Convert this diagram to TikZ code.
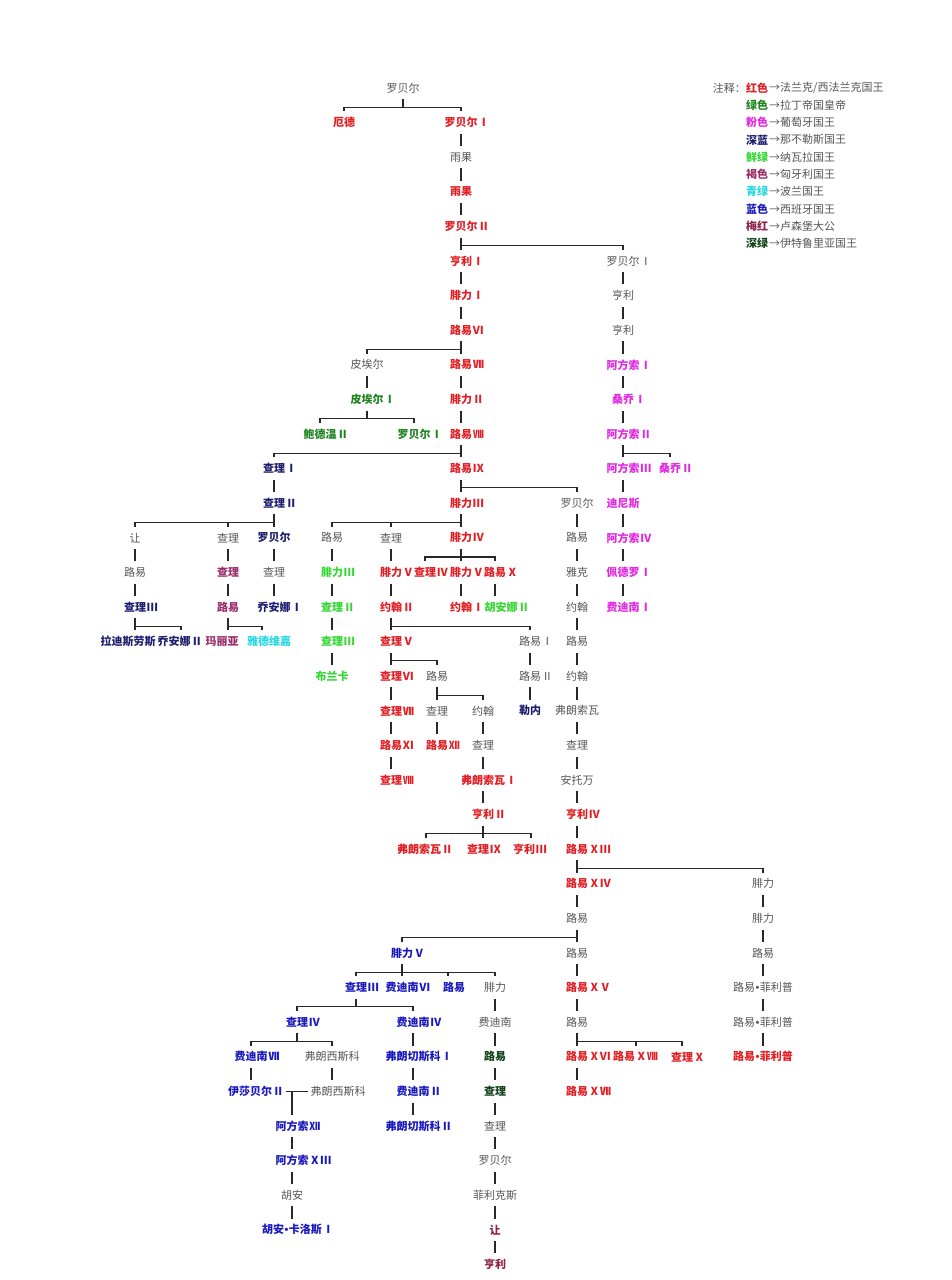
\documentclass[tikz,border=0pt]{standalone}
\usepackage{fontspec}
\newfontfamily\cjk{Noto Sans CJK SC}
\newfontfamily\latn{Liberation Sans}
\definecolor{cred}{RGB}{225,30,35}
\definecolor{cgreen}{RGB}{30,130,30}
\definecolor{cpink}{RGB}{225,40,225}
\definecolor{cnavy}{RGB}{30,30,110}
\definecolor{clime}{RGB}{50,215,50}
\definecolor{cbrown}{RGB}{155,45,105}
\definecolor{ccyan}{RGB}{40,215,225}
\definecolor{cblue}{RGB}{25,25,190}
\definecolor{cplum}{RGB}{140,35,75}
\definecolor{cdkgreen}{RGB}{15,65,25}
\definecolor{cgray}{RGB}{85,85,85}
\definecolor{cline}{RGB}{40,40,40}
\tikzset{
  nm/.style={inner sep=0pt, minimum height=22pt, font=\cjk\fontsize{11}{13}\selectfont, text=cgray},
  kgray/.style={nm},
  kbold/.style={nm, font=\cjk\bfseries\fontsize{11}{13}\selectfont},
  kred/.style={kbold, text=cred},
  kgreen/.style={kbold, text=cgreen},
  kpink/.style={kbold, text=cpink},
  knavy/.style={kbold, text=cnavy},
  klime/.style={kbold, text=clime},
  kbrown/.style={kbold, text=cbrown},
  kcyan/.style={kbold, text=ccyan},
  kblue/.style={kbold, text=cblue},
  kplum/.style={kbold, text=cplum},
  kdkgreen/.style={kbold, text=cdkgreen},
  ln/.style={line width=1.3pt, draw=cline},
}
\newcommand\mknode[5]{\node[#4] (#1) at (#2,{88+34.6*#3}) {#5};}
\newcommand\vcon[2]{\draw[ln] (#1.south) -- (#1.south |- #2.north);}
\newcommand\bcon[2]{\draw[ln] (#1.south) -- ++(0,8) -| (#2.north);}
\newcommand\bconx[3]{\draw[ln] (#1.south) -- ++(0,8) -| ([xshift=#3pt]#2.north);}
\newcommand\rnum[1]{\rlap{\kern1pt#1}}
\newcommand\dotsep{{\latn\kern0.5pt•\kern0.5pt}}
\begin{document}
\begin{tikzpicture}[x=1pt,y=-1pt]
\useasboundingbox (0,0) rectangle (951,1280);
% legend
\node[kgray, anchor=east] (lg0) at (746,88) {注释：};
\foreach \i/\st/\lab/\txt in {1/kred/红色/法兰克\slash 西法兰克国王, 2/kgreen/绿色/拉丁帝国皇帝, 3/kpink/粉色/葡萄牙国王, 4/knavy/深蓝/那不勒斯国王, 5/klime/鲜绿/纳瓦拉国王, 6/kbrown/褐色/匈牙利国王, 7/kcyan/青绿/波兰国王, 8/kblue/蓝色/西班牙国王, 9/kplum/梅红/卢森堡大公, 10/kdkgreen/深绿/伊特鲁里亚国王}{
  \node[\st, anchor=west] (lg\i) at (746,{88+17.3*(\i-1)}) {\lab};
  \node[kgray, anchor=west] (lt\i) at (769,{88+17.3*(\i-1)}) {→\txt};
}
% nodes
\mknode{a0}{403}{0}{kgray}{罗贝尔}
\mknode{a1}{344}{1}{kred}{厄德}
\mknode{b1}{461}{1}{kred}{罗贝尔\rnum{Ⅰ}}
\mknode{b2}{461}{2}{kgray}{雨果}
\mknode{b3}{461}{3}{kred}{雨果}
\mknode{b4}{461}{4}{kred}{罗贝尔\rnum{Ⅱ}}
\mknode{b5}{461}{5}{kred}{亨利\rnum{Ⅰ}}
\mknode{c5}{623}{5}{kgray}{罗贝尔\rnum{Ⅰ}}
\mknode{b6}{461}{6}{kred}{腓力\rnum{Ⅰ}}
\mknode{c6}{623}{6}{kgray}{亨利}
\mknode{b7}{461}{7}{kred}{路易\rnum{Ⅵ}}
\mknode{c7}{623}{7}{kgray}{亨利}
\mknode{d8}{367}{8}{kgray}{皮埃尔}
\mknode{b8}{461}{8}{kred}{路易\rnum{Ⅶ}}
\mknode{c8}{623}{8}{kpink}{阿方索\rnum{Ⅰ}}
\mknode{d9}{367}{9}{kgreen}{皮埃尔\rnum{Ⅰ}}
\mknode{b9}{461}{9}{kred}{腓力\rnum{Ⅱ}}
\mknode{c9}{623}{9}{kpink}{桑乔\rnum{Ⅰ}}
\mknode{e10}{320}{10}{kgreen}{鲍德温\rnum{Ⅱ}}
\mknode{f10}{414}{10}{kgreen}{罗贝尔\rnum{Ⅰ}}
\mknode{b10}{461}{10}{kred}{路易\rnum{Ⅷ}}
\mknode{c10}{623}{10}{kpink}{阿方索\rnum{Ⅱ}}
\mknode{h11}{274}{11}{knavy}{查理\rnum{Ⅰ}}
\mknode{b11}{461}{11}{kred}{路易\rnum{Ⅸ}}
\mknode{c11}{623}{11}{kpink}{阿方索\rnum{Ⅲ}}
\mknode{i11}{670}{11}{kpink}{桑乔\rnum{Ⅱ}}
\mknode{h12}{274}{12}{knavy}{查理\rnum{Ⅱ}}
\mknode{b12}{461}{12}{kred}{腓力\rnum{Ⅲ}}
\mknode{j12}{577}{12}{kgray}{罗贝尔}
\mknode{c12}{623}{12}{kpink}{迪尼斯}
\mknode{k13}{135}{13}{kgray}{让}
\mknode{l13}{228}{13}{kgray}{查理}
\mknode{h13}{274}{13}{knavy}{罗贝尔}
\mknode{m13}{332}{13}{kgray}{路易}
\mknode{o13}{391}{13}{kgray}{查理}
\mknode{b13}{461}{13}{kred}{腓力\rnum{Ⅳ}}
\mknode{j13}{577}{13}{kgray}{路易}
\mknode{c13}{623}{13}{kpink}{阿方索\rnum{Ⅳ}}
\mknode{k14}{135}{14}{kgray}{路易}
\mknode{l14}{228}{14}{kbrown}{查理}
\mknode{h14}{274}{14}{kgray}{查理}
\mknode{m14}{332}{14}{klime}{腓力\rnum{Ⅲ}}
\mknode{o14}{391}{14}{kred}{腓力\rnum{Ⅴ}}
\mknode{p14}{425}{14}{kred}{查理\rnum{Ⅳ}}
\mknode{b14}{461}{14}{kred}{腓力\rnum{Ⅴ}}
\mknode{q14}{495}{14}{kred}{路易\rnum{Ⅹ}}
\mknode{j14}{577}{14}{kgray}{雅克}
\mknode{c14}{623}{14}{kpink}{佩德罗\rnum{Ⅰ}}
\mknode{k15}{135}{15}{knavy}{查理\rnum{Ⅲ}}
\mknode{l15}{228}{15}{kbrown}{路易}
\mknode{h15}{274}{15}{knavy}{乔安娜\rnum{Ⅰ}}
\mknode{m15}{332}{15}{klime}{查理\rnum{Ⅱ}}
\mknode{o15}{391}{15}{kred}{约翰\rnum{Ⅱ}}
\mknode{b15}{461}{15}{kred}{约翰\rnum{Ⅰ}}
\mknode{q15}{501}{15}{klime}{胡安娜\rnum{Ⅱ}}
\mknode{j15}{577}{15}{kgray}{约翰}
\mknode{c15}{623}{15}{kpink}{费迪南\rnum{Ⅰ}}
\mknode{k16a}{128}{16}{knavy}{拉迪斯劳斯}
\mknode{k16b}{174}{16}{knavy}{乔安娜\rnum{Ⅱ}}
\mknode{l16a}{222}{16}{kbrown}{玛丽亚}
\mknode{l16b}{269}{16}{kcyan}{雅德维嘉}
\mknode{m16}{332}{16}{klime}{查理\rnum{Ⅲ}}
\mknode{o16}{391}{16}{kred}{查理\rnum{Ⅴ}}
\mknode{s16}{530}{16}{kgray}{路易\rnum{Ⅰ}}
\mknode{j16}{577}{16}{kgray}{路易}
\mknode{m17}{332}{17}{klime}{布兰卡}
\mknode{o17}{391}{17}{kred}{查理\rnum{Ⅵ}}
\mknode{t17}{437}{17}{kgray}{路易}
\mknode{s17}{530}{17}{kgray}{路易\rnum{Ⅱ}}
\mknode{j17}{577}{17}{kgray}{约翰}
\mknode{o18}{391}{18}{kred}{查理\rnum{Ⅶ}}
\mknode{t18}{437}{18}{kgray}{查理}
\mknode{u18}{483}{18}{kgray}{约翰}
\mknode{s18}{530}{18}{knavy}{勒内}
\mknode{j18}{577}{18}{kgray}{弗朗索瓦}
\mknode{o19}{391}{19}{kred}{路易\rnum{Ⅺ}}
\mknode{t19}{437}{19}{kred}{路易\rnum{Ⅻ}}
\mknode{u19}{483}{19}{kgray}{查理}
\mknode{j19}{577}{19}{kgray}{查理}
\mknode{o20}{391}{20}{kred}{查理\rnum{Ⅷ}}
\mknode{u20}{483}{20}{kred}{弗朗索瓦\rnum{Ⅰ}}
\mknode{j20}{577}{20}{kgray}{安托万}
\mknode{u21}{483}{21}{kred}{亨利\rnum{Ⅱ}}
\mknode{j21}{577}{21}{kred}{亨利\rnum{Ⅳ}}
\mknode{v22}{419}{22}{kred}{弗朗索瓦\rnum{Ⅱ}}
\mknode{u22}{478}{22}{kred}{查理\rnum{Ⅸ}}
\mknode{w22}{524}{22}{kred}{亨利\rnum{Ⅲ}}
\mknode{j22}{577}{22}{kred}{路易\rnum{ⅩⅢ}}
\mknode{j23}{577}{23}{kred}{路易\rnum{ⅩⅣ}}
\mknode{x23}{763}{23}{kgray}{腓力}
\mknode{j24}{577}{24}{kgray}{路易}
\mknode{x24}{763}{24}{kgray}{腓力}
\mknode{y25}{402}{25}{kblue}{腓力\rnum{Ⅴ}}
\mknode{j25}{577}{25}{kgray}{路易}
\mknode{x25}{763}{25}{kgray}{路易}
\mknode{z26}{356}{26}{kblue}{查理\rnum{Ⅲ}}
\mknode{y26}{402}{26}{kblue}{费迪南\rnum{Ⅵ}}
\mknode{aa26}{454}{26}{kblue}{路易}
\mknode{bb26}{495}{26}{kgray}{腓力}
\mknode{j26}{577}{26}{kred}{路易\rnum{ⅩⅤ}}
\mknode{x26}{763}{26}{kgray}{路易\dotsep 菲利普}
\mknode{cc27}{297}{27}{kblue}{查理\rnum{Ⅳ}}
\mknode{dd27}{413}{27}{kblue}{费迪南\rnum{Ⅳ}}
\mknode{bb27}{495}{27}{kgray}{费迪南}
\mknode{j27}{577}{27}{kgray}{路易}
\mknode{x27}{763}{27}{kgray}{路易\dotsep 菲利普}
\mknode{ee28}{251}{28}{kblue}{费迪南\rnum{Ⅶ}}
\mknode{ff28}{332}{28}{kgray}{弗朗西斯科}
\mknode{dd28}{413}{28}{kblue}{弗朗切斯科\rnum{Ⅰ}}
\mknode{bb28}{495}{28}{kdkgreen}{路易}
\mknode{j28}{577}{28}{kred}{路易\rnum{ⅩⅥ}}
\mknode{gg28}{624}{28}{kred}{路易\rnum{ⅩⅧ}}
\mknode{hh28}{682}{28}{kred}{查理\rnum{Ⅹ}}
\mknode{x28}{763}{28}{kred}{路易\dotsep 菲利普}
\mknode{ee29}{250}{29}{kblue}{伊莎贝尔\rnum{Ⅱ}}
\mknode{ff29}{338}{29}{kgray}{弗朗西斯科}
\mknode{dd29}{413}{29}{kblue}{费迪南\rnum{Ⅱ}}
\mknode{bb29}{495}{29}{kdkgreen}{查理}
\mknode{j29}{577}{29}{kred}{路易\rnum{ⅩⅦ}}
\coordinate (mar) at (292,{88+34.6*29});
\mknode{al30}{292}{30}{kblue}{阿方索\rnum{Ⅻ}}
\mknode{dd30}{413}{30}{kblue}{弗朗切斯科\rnum{Ⅱ}}
\mknode{bb30}{495}{30}{kgray}{查理}
\mknode{al31}{292}{31}{kblue}{阿方索\rnum{ⅩⅢ}}
\mknode{bb31}{495}{31}{kgray}{罗贝尔}
\mknode{al32}{292}{32}{kgray}{胡安}
\mknode{bb32}{495}{32}{kgray}{菲利克斯}
\mknode{al33}{292}{33}{kblue}{胡安\dotsep 卡洛斯\rnum{Ⅰ}}
\mknode{bb33}{495}{33}{kplum}{让}
\mknode{bb34}{495}{34}{kplum}{亨利}
% connectors
\bcon{a0}{a1}\bcon{a0}{b1}
\vcon{b1}{b2}\vcon{b2}{b3}\vcon{b3}{b4}
\bcon{b4}{b5}\bcon{b4}{c5}
\vcon{b5}{b6}\vcon{b6}{b7}
\vcon{c5}{c6}\vcon{c6}{c7}\vcon{c7}{c8}\vcon{c8}{c9}\vcon{c9}{c10}
\bcon{b7}{d8}\bcon{b7}{b8}
\vcon{d8}{d9}
\vcon{b8}{b9}\vcon{b9}{b10}
\bcon{d9}{e10}\bcon{d9}{f10}
\bcon{b10}{h11}\bcon{b10}{b11}
\bcon{c10}{c11}\bcon{c10}{i11}
\vcon{h11}{h12}
\bcon{b11}{b12}\bcon{b11}{j12}
\vcon{c11}{c12}\vcon{c12}{c13}\vcon{c13}{c14}\vcon{c14}{c15}
\bcon{h12}{k13}\bcon{h12}{l13}\bcon{h12}{h13}
\bcon{b12}{m13}\bcon{b12}{o13}\bcon{b12}{b13}
\vcon{j12}{j13}\vcon{j13}{j14}\vcon{j14}{j15}\vcon{j15}{j16}\vcon{j16}{j17}
\vcon{j17}{j18}\vcon{j18}{j19}\vcon{j19}{j20}\vcon{j20}{j21}\vcon{j21}{j22}
\vcon{k13}{k14}\vcon{k14}{k15}
\vcon{l13}{l14}\vcon{l14}{l15}
\vcon{h13}{h14}\vcon{h14}{h15}
\vcon{m13}{m14}\vcon{m14}{m15}\vcon{m15}{m16}\vcon{m16}{m17}
\vcon{o13}{o14}\vcon{o14}{o15}
\bcon{b13}{p14}\bcon{b13}{b14}\bcon{b13}{q14}
\vcon{b14}{b15}\vcon{q14}{q15}
\bconx{k15}{k16a}{7}\bconx{k15}{k16b}{7}
\bconx{l15}{l16a}{6}\bconx{l15}{l16b}{-7}
\bcon{o15}{o16}\bcon{o15}{s16}
\bcon{o16}{o17}\bcon{o16}{t17}
\vcon{o17}{o18}\vcon{o18}{o19}\vcon{o19}{o20}
\bcon{t17}{t18}\bcon{t17}{u18}
\vcon{t18}{t19}
\vcon{u18}{u19}\vcon{u19}{u20}\vcon{u20}{u21}
\vcon{s16}{s17}\vcon{s17}{s18}
\bconx{u21}{v22}{7}\bconx{u21}{u22}{5}\bconx{u21}{w22}{7}
\bcon{j22}{j23}\bcon{j22}{x23}
\vcon{j23}{j24}
\vcon{x23}{x24}\vcon{x24}{x25}\vcon{x25}{x26}\vcon{x26}{x27}\vcon{x27}{x28}
\bcon{j24}{y25}\bcon{j24}{j25}
\vcon{j25}{j26}\vcon{j26}{j27}
\bcon{y25}{z26}\bcon{y25}{y26}\bconx{y25}{aa26}{-6}\bcon{y25}{bb26}
\bcon{z26}{cc27}\bcon{z26}{dd27}
\vcon{bb26}{bb27}\vcon{bb27}{bb28}\vcon{bb28}{bb29}\vcon{bb29}{bb30}
\vcon{bb30}{bb31}\vcon{bb31}{bb32}\vcon{bb32}{bb33}\vcon{bb33}{bb34}
\vcon{dd27}{dd28}\vcon{dd28}{dd29}\vcon{dd29}{dd30}
\bcon{cc27}{ee28}\bcon{cc27}{ff28}
\bcon{j27}{j28}\bconx{j27}{gg28}{12}\bcon{j27}{hh28}
\vcon{ee28}{ee29}
\vcon{ff28}{ff29}
\vcon{j28}{j29}
\draw[ln] ([xshift=14pt]ee29.east) -- ([xshift=-2pt]ff29.west);
\draw[ln] (mar) -- (al30.north);
\vcon{al30}{al31}\vcon{al31}{al32}\vcon{al32}{al33}
\end{tikzpicture}
\end{document}
